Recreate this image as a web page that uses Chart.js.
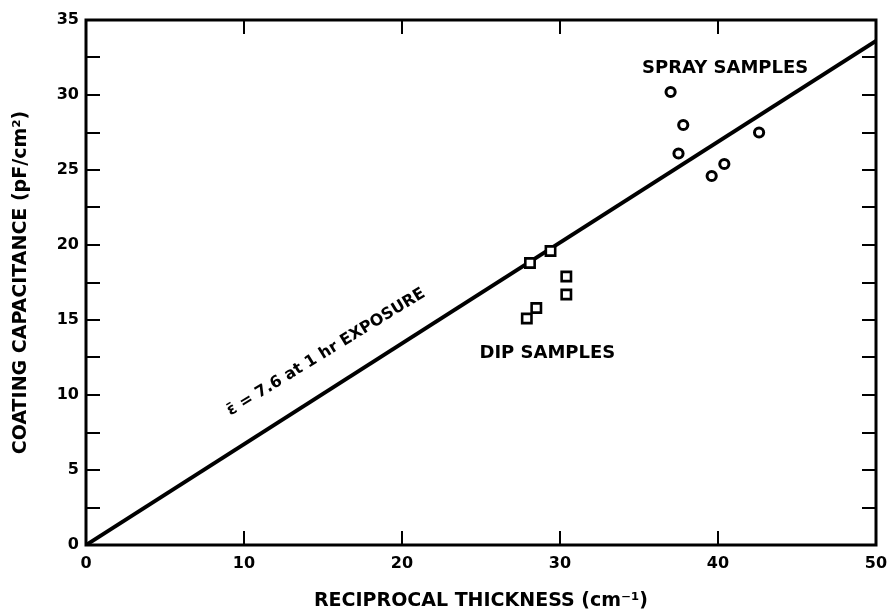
<!DOCTYPE html>
<html>
<head>
<meta charset="utf-8">
<script src="https://cdn.jsdelivr.net/npm/chart.js@4"></script>
<style>
  html, body { margin: 0; padding: 0; background: #fff; }
  #wrap { width: 890px; height: 612px; }
</style>
</head>
<body>
<div id="wrap"><canvas id="chart" width="890" height="612"></canvas></div>
<script>
/* ---- data ---- */
const sprayX = [37.0, 37.8, 37.5, 42.6, 40.4, 39.6];
const sprayY = [30.2, 28.0, 26.1, 27.5, 25.4, 24.6];
const dipX   = [28.1, 29.4, 30.4, 30.4, 28.5, 27.9];
const dipY   = [18.8, 19.6, 17.9, 16.7, 15.8, 15.1];
const fitX   = [0, 50];
const fitY   = [0, 33.6];

const xTitle = 'RECIPROCAL THICKNESS (cm\u207B\u00B9)';
const yTitle = 'COATING CAPACITANCE (pF/cm\u00B2)';

// text notes placed in data coordinates
const notes = [
  { text: 'SPRAY SAMPLES', x: 40.45, y: 31.8, angle: 0, size: 18 },
  { text: 'DIP SAMPLES', x: 29.2, y: 12.75, angle: 0, size: 18 },
  { text: '\u03B5\u0304 = 7.6 at 1 hr EXPOSURE', x: 15.2, y: 12.85, angle: -31.5, size: 16 }
];

const FONT = '"DejaVu Sans", sans-serif';
const pts = (xs, ys) => xs.map((x, i) => ({ x, y: ys[i] }));

/* ---- frame + inward ticks + notes ---- */
const framePlugin = {
  id: 'frame',
  afterDraw(chart) {
    const { ctx, chartArea: a, scales } = chart;
    const xs = scales.x, ys = scales.y;
    ctx.save();
    ctx.strokeStyle = '#000';
    ctx.lineWidth = 3;
    ctx.strokeRect(a.left, a.top, a.right - a.left, a.bottom - a.top);

    ctx.lineWidth = 2;
    const len = 14;
    ctx.beginPath();
    xs.ticks.forEach(t => {
      if (t.value <= xs.min || t.value >= xs.max) return;
      const px = Math.round(xs.getPixelForValue(t.value));
      ctx.moveTo(px, a.bottom); ctx.lineTo(px, a.bottom - len);
      ctx.moveTo(px, a.top); ctx.lineTo(px, a.top + len);
    });
    ys.ticks.forEach(t => {
      if (t.value <= ys.min || t.value >= ys.max) return;
      const py = Math.round(ys.getPixelForValue(t.value));
      ctx.moveTo(a.left, py); ctx.lineTo(a.left + len, py);
      ctx.moveTo(a.right, py); ctx.lineTo(a.right - len, py);
    });
    ctx.stroke();

    ctx.fillStyle = '#000';
    ctx.textAlign = 'center';
    ctx.textBaseline = 'middle';
    notes.forEach(n => {
      ctx.save();
      ctx.translate(xs.getPixelForValue(n.x), ys.getPixelForValue(n.y));
      ctx.rotate(n.angle * Math.PI / 180);
      ctx.font = `bold ${n.size}px ${FONT}`;
      ctx.fillText(n.text, 0, 0);
      ctx.restore();
    });
    ctx.restore();
  }
};

new Chart(document.getElementById('chart'), {
  type: 'scatter',
  data: {
    datasets: [
      {
        label: 'fit', data: pts(fitX, fitY), showLine: true,
        borderColor: '#000', borderWidth: 4, pointRadius: 0, order: 3
      },
      {
        label: 'spray', data: pts(sprayX, sprayY), pointStyle: 'circle',
        pointRadius: 4.6, pointBorderWidth: 3, pointBackgroundColor: '#fff',
        pointBorderColor: '#000', order: 1
      },
      {
        label: 'dip', data: pts(dipX, dipY), pointStyle: 'rect',
        pointRadius: 6.6, pointBorderWidth: 2.6, pointBackgroundColor: '#fff',
        pointBorderColor: '#000', order: 1
      }
    ]
  },
  options: {
    responsive: false,
    animation: false,
    layout: { padding: { top: 20, right: 14, left: 0, bottom: 0 } },
    plugins: { legend: { display: false }, tooltip: { enabled: false } },
    scales: {
      x: {
        type: 'linear', min: 0, max: 50,
        grid: { display: false, drawTicks: false },
        border: { display: false },
        ticks: {
          stepSize: 10, padding: 9, color: '#000', maxRotation: 0,
          font: { family: FONT, size: 16, weight: 'bold' }
        },
        title: {
          display: true, text: xTitle, color: '#000',
          padding: { top: 0, bottom: 0 },
          font: { family: FONT, size: 19, weight: 'bold', lineHeight: 1.2 }
        },
        afterFit(s) { s.height = 67; s.paddingLeft = 0; s.paddingRight = 0; }
      },
      y: {
        type: 'linear', min: 0, max: 35,
        grid: { display: false, drawTicks: false },
        border: { display: false },
        ticks: {
          stepSize: 2.5, padding: 7, color: '#000',
          font: { family: FONT, size: 16, weight: 'bold' },
          callback: v => (v % 5 === 0 ? v : '')
        },
        title: {
          display: true, text: yTitle, color: '#000',
          padding: { top: 10, bottom: 0 },
          font: { family: FONT, size: 19, weight: 'bold', lineHeight: 1.2 }
        },
        afterFit(s) { s.width = 86; }
      }
    }
  },
  plugins: [framePlugin]
});
</script>
</body>
</html>
